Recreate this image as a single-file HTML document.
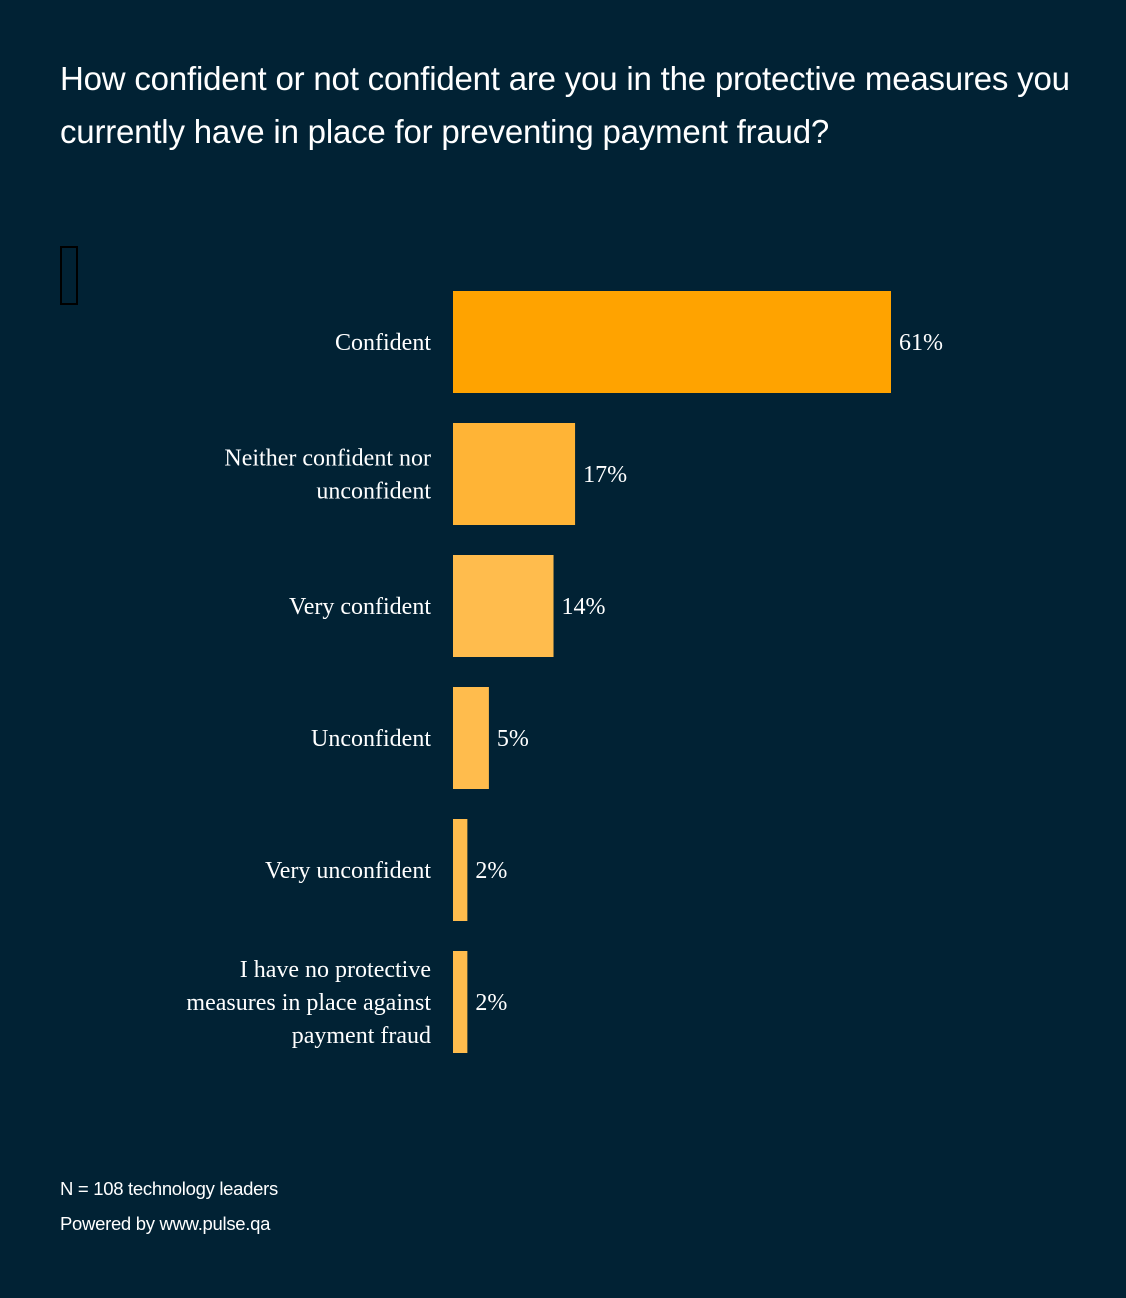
<!DOCTYPE html>
<html><head><meta charset="utf-8">
<style>
html,body{margin:0;padding:0;}
body{width:1126px;height:1298px;background:#012234;position:relative;overflow:hidden;font-family:"Liberation Sans",sans-serif;}
#title{position:absolute;left:60px;top:52px;width:1020px;color:#fff;font-size:33px;line-height:53px;letter-spacing:-0.2px;margin:0;font-weight:normal;}
.foot{position:absolute;left:60px;color:#fff;font-size:18.5px;letter-spacing:-0.3px;}
#marker{position:absolute;left:60px;top:246px;width:18px;height:59px;border:2px solid #000;box-sizing:border-box;}
svg{position:absolute;left:0;top:0;}
</style></head>
<body>
<h1 id="title">How confident or not confident are you in the protective measures you currently have in place for preventing payment fraud?</h1>
<div id="marker"></div>
<svg id="chart" width="1126" height="1298"></svg>
<div class="foot" style="top:1178px">N = 108 technology leaders</div>
<div class="foot" style="top:1213px">Powered by www.pulse.qa</div>
<script>
const categories = [["Confident"],["Neither confident nor","unconfident"],["Very confident"],["Unconfident"],["Very unconfident"],["I have no protective","measures in place against","payment fraud"]];
const values = [61,17,14,5,2,2];
const valueLabels = ["61%","17%","14%","5%","2%","2%"];
const barColors = ["#FFA300","#FFB436","#FFBC4D","#FFBC4D","#FFBC4D","#FFBC4D"];

const NS="http://www.w3.org/2000/svg";
const svg=document.getElementById('chart');
const x0=453, pxPerUnit=438/61;
const xScale=v=>v*pxPerUnit;
const yTop=i=>291+i*132;
const barH=102;
values.forEach((v,i)=>{
  const r=document.createElementNS(NS,'rect');
  r.setAttribute('x',x0);r.setAttribute('y',yTop(i));
  r.setAttribute('width',xScale(v));r.setAttribute('height',barH);
  r.setAttribute('fill',barColors[i]);
  
  
  svg.appendChild(r);
  const cy=yTop(i)+barH/2;
  const t=document.createElementNS(NS,'text');
  t.setAttribute('x',x0+xScale(v)+8);t.setAttribute('y',cy+8);
  t.setAttribute('fill','#fff');t.setAttribute('font-size','24');
  t.setAttribute('font-family','"Liberation Serif",serif');
  t.textContent=valueLabels[i];
  
  
  svg.appendChild(t);
  const lines=categories[i];
  const lh=33;
  const startY=cy+8-(lines.length-1)*lh/2;
  const c=document.createElementNS(NS,'text');
  c.setAttribute('fill','#fff');c.setAttribute('font-size','24');
  c.setAttribute('font-family','"Liberation Serif",serif');
  c.setAttribute('text-anchor','end');
  
  
  lines.forEach((ln,j)=>{
    const s=document.createElementNS(NS,'tspan');
    s.setAttribute('x',431);s.setAttribute('y',startY+j*lh);
    s.textContent=ln;c.appendChild(s);
  });
  svg.appendChild(c);
});
</script>
</body></html>
